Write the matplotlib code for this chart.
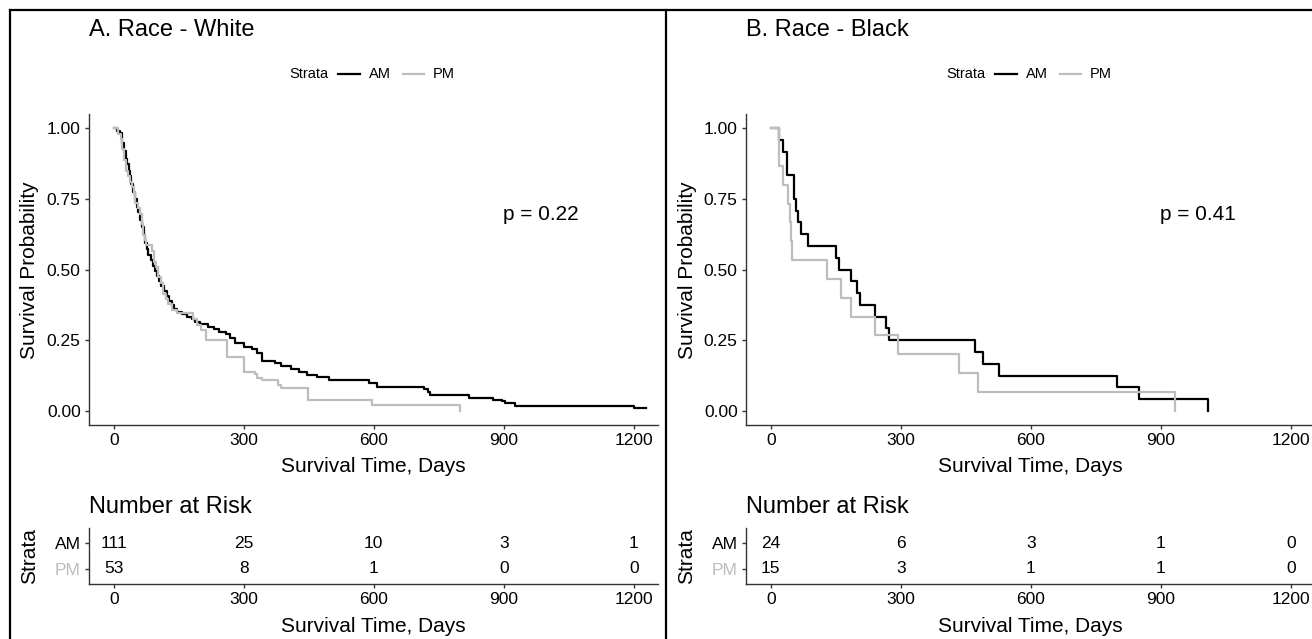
import matplotlib
matplotlib.use("Agg")
import matplotlib.pyplot as plt
from matplotlib.lines import Line2D

plt.rcParams["font.family"] = ["Liberation Sans", "DejaVu Sans"]

W, H = 1312, 639
GREY = "#BDBDBD"
AXCOL = "#333333"

# Panel A: Race - White (Kaplan-Meier steps)
white_am_t = [0, 8, 15, 18, 20, 24, 28, 31, 35, 38, 41, 45, 49, 54, 57, 61, 65, 69, 73, 76,
              80, 85, 90, 95, 100, 104, 110, 116, 122, 128, 134, 140, 146, 158, 169, 180, 188,
              200, 217, 231, 242, 258, 269, 281, 300, 319, 331, 343, 373, 385, 408, 427, 447,
              470, 497, 590, 608, 716, 726, 731, 820, 875, 895, 902, 927, 1200, 1228]
white_am_s = [1.0, 0.991, 0.982, 0.964, 0.946, 0.919, 0.892, 0.874, 0.847, 0.829, 0.802, 0.775,
              0.748, 0.721, 0.703, 0.676, 0.649, 0.622, 0.595, 0.572, 0.550, 0.532, 0.514, 0.495,
              0.477, 0.459, 0.441, 0.423, 0.405, 0.387, 0.374, 0.360, 0.351, 0.342, 0.333, 0.324,
              0.315, 0.307, 0.298, 0.289, 0.280, 0.271, 0.257, 0.240, 0.227, 0.218, 0.204, 0.178,
              0.169, 0.157, 0.147, 0.139, 0.128, 0.119, 0.110, 0.098, 0.083, 0.078, 0.066, 0.055,
              0.047, 0.040, 0.034, 0.028, 0.018, 0.009, 0.009]
white_pm_t = [0, 10, 16, 20, 24, 28, 33, 38, 42, 46, 50, 55, 60, 65, 68, 72, 74, 88, 92, 97,
              102, 108, 114, 120, 126, 134, 146, 182, 193, 201, 212, 262, 300, 327, 331, 343,
              378, 385, 448, 596, 800]
white_pm_s = [1.0, 0.981, 0.962, 0.925, 0.887, 0.849, 0.830, 0.811, 0.792, 0.774, 0.736, 0.717,
              0.698, 0.660, 0.623, 0.604, 0.587, 0.566, 0.528, 0.509, 0.472, 0.453, 0.415, 0.396,
              0.377, 0.358, 0.346, 0.325, 0.304, 0.286, 0.251, 0.192, 0.139, 0.131, 0.116, 0.110,
              0.092, 0.080, 0.039, 0.021, 0.0]

# Panel B: Race - Black
black_am_t = [0, 20, 28, 38, 54, 59, 64, 70, 87, 151, 157, 186, 198, 207, 240, 265, 273,
              472, 490, 526, 799, 851, 1010]
black_am_s = [1.0, 0.958, 0.917, 0.833, 0.750, 0.708, 0.667, 0.625, 0.583, 0.542, 0.500,
              0.458, 0.417, 0.375, 0.333, 0.292, 0.250, 0.208, 0.167, 0.125, 0.083, 0.042, 0.0]
black_pm_t = [0, 18, 29, 41, 44, 47, 50, 131, 162, 186, 240, 294, 434, 478, 932]
black_pm_s = [1.0, 0.867, 0.800, 0.733, 0.667, 0.600, 0.533, 0.467, 0.400, 0.333, 0.267,
              0.200, 0.133, 0.067, 0.0]

risk_times = [0, 300, 600, 900, 1200]
white_am_risk = [111, 25, 10, 3, 1]
white_pm_risk = [53, 8, 1, 0, 0]
black_am_risk = [24, 6, 3, 1, 0]
black_pm_risk = [15, 3, 1, 1, 0]

x_ticks = [0, 300, 600, 900, 1200]
y_ticks = [0.0, 0.25, 0.5, 0.75, 1.0]
y_labels = ["0.00", "0.25", "0.50", "0.75", "1.00"]


def fx(px):
    return px / W


def fy(py):
    return 1 - py / H


def style_axis(ax):
    for s in ["top", "right"]:
        ax.spines[s].set_visible(False)
    for s in ["left", "bottom"]:
        ax.spines[s].set_color(AXCOL)
        ax.spines[s].set_linewidth(1.0)
    ax.tick_params(length=3, width=1.0, color=AXCOL, labelsize=12.5, pad=3)


def draw_panel(fig, x0, title, am_t, am_s, pm_t, pm_s, pval, am_risk, pm_risk):
    dx = x0 - 89
    # survival curves
    ax = fig.add_axes([fx(x0), fy(425), 569 / W, (425 - 114) / H])
    ax.step(am_t, am_s, where="post", color="black", lw=1.6)
    ax.step(pm_t, pm_s, where="post", color=GREY, lw=1.6)
    ax.set_xlim(-57, 1256)
    ax.set_ylim(-0.05, 1.05)
    ax.set_xticks(x_ticks)
    ax.set_yticks(y_ticks)
    ax.set_yticklabels(y_labels)
    style_axis(ax)
    ax.text(899, 0.693, pval, fontsize=15, ha="left", va="center")

    fig.text(fx(x0), fy(30), title, fontsize=17, ha="left", va="center")
    fig.text(fx(373 + dx), fy(466), "Survival Time, Days", fontsize=15, ha="center", va="center")
    fig.text(fx(30 + dx), fy(270), "Survival Probability", fontsize=15, rotation=90,
             ha="center", va="center")

    # legend
    fig.text(fx(289 + dx), fy(74), "Strata", fontsize=10.5, ha="left", va="center")
    fig.add_artist(Line2D([fx(338 + dx), fx(360 + dx)], [fy(74), fy(74)], color="black", lw=1.6))
    fig.text(fx(369 + dx), fy(74), "AM", fontsize=10.5, ha="left", va="center")
    fig.add_artist(Line2D([fx(403 + dx), fx(424 + dx)], [fy(74), fy(74)], color=GREY, lw=1.6))
    fig.text(fx(433 + dx), fy(74), "PM", fontsize=10.5, ha="left", va="center")

    # number at risk table
    rx = fig.add_axes([fx(x0), fy(584), 569 / W, (584 - 528) / H])
    rx.set_xlim(-57, 1256)
    rx.set_ylim(-0.6, 1.6)
    rx.set_xticks(x_ticks)
    rx.set_yticks([1, 0])
    rx.set_yticklabels(["AM", "PM"])
    style_axis(rx)
    rx.get_yticklabels()[1].set_color(GREY)
    for t, n in zip(risk_times, am_risk):
        rx.text(t, 1, str(n), fontsize=12.5, ha="center", va="center")
    for t, n in zip(risk_times, pm_risk):
        rx.text(t, 0, str(n), fontsize=12.5, ha="center", va="center")

    fig.text(fx(x0), fy(507), "Number at Risk", fontsize=17, ha="left", va="center")
    fig.text(fx(373 + dx), fy(626), "Survival Time, Days", fontsize=15, ha="center", va="center")
    fig.text(fx(30 + dx), fy(556), "Strata", fontsize=15, rotation=90, ha="center", va="center")


fig = plt.figure(figsize=(W / 100, H / 100), dpi=100)

draw_panel(fig, 89, "A. Race - White", white_am_t, white_am_s, white_pm_t, white_pm_s,
           "p = 0.22", white_am_risk, white_pm_risk)
draw_panel(fig, 746, "B. Race - Black", black_am_t, black_am_s, black_pm_t, black_pm_s,
           "p = 0.41", black_am_risk, black_pm_risk)

# panel borders
for x in [10, 666]:
    fig.add_artist(Line2D([fx(x), fx(x)], [fy(10), 0], color="black", lw=1.6))
fig.add_artist(Line2D([fx(10), 1], [fy(10), fy(10)], color="black", lw=1.6))

fig.savefig("out.png", dpi=100)
